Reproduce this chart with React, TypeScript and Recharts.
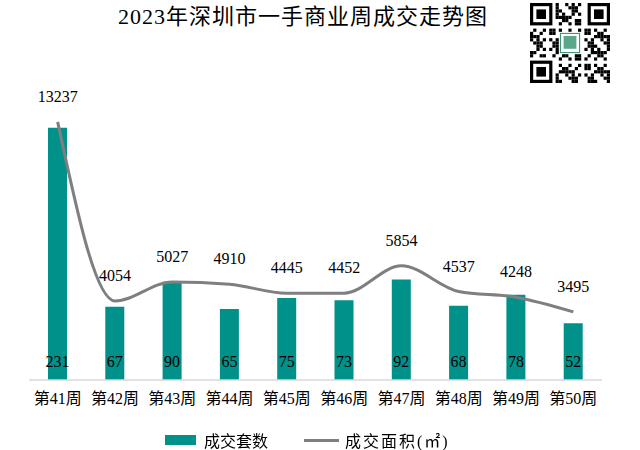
import React from 'react';
import { ComposedChart, Bar, Line, XAxis, YAxis, LabelList, Legend } from 'recharts';

const weeks = ['第41周', '第42周', '第43周', '第44周', '第45周', '第46周', '第47周', '第48周', '第49周', '第50周'];
const dealCounts = [231, 67, 90, 65, 75, 73, 92, 68, 78, 52];
const dealAreas = [13237, 4054, 5027, 4910, 4445, 4452, 5854, 4537, 4248, 3495];

const data = weeks.map((w, i) => ({ week: w, count: dealCounts[i], area: dealAreas[i] }));

const FONT = "'Liberation Serif', 'Noto Sans CJK SC', serif";
const TEAL = '#00918a';
const GRAY = '#7f7f7f';

const qrFinder = (x: number, y: number, s: number) => (
  <g key={`f${x}-${y}`}>
    <rect x={x} y={y} width={7 * s} height={7 * s} fill="#000" />
    <rect x={x + s} y={y + s} width={5 * s} height={5 * s} fill="#fff" />
    <rect x={x + 2 * s} y={y + 2 * s} width={3 * s} height={3 * s} fill="#000" />
  </g>
);

const QR = () => {
  const n = 25;
  const s = 3.2;
  const cells: React.ReactNode[] = [];
  for (let i = 0; i < n; i++) {
    for (let j = 0; j < n; j++) {
      const inFinder = (i < 8 && j < 8) || (i < 8 && j >= n - 8) || (i >= n - 8 && j < 8);
      const inLogo = i >= 9 && i <= 15 && j >= 9 && j <= 15;
      if (inFinder || inLogo) continue;
      const v = ((i * 31 + j * 17 + i * j * 7) % 11) < 5;
      if (v) cells.push(<rect key={`${i}-${j}`} x={j * s} y={i * s} width={s} height={s} fill="#000" />);
    }
  }
  return (
    <svg width={80} height={80} style={{ position: 'absolute', left: 530, top: 3 }}>
      <rect width={80} height={80} fill="#fff" />
      {cells}
      {qrFinder(0, 0, s)}
      {qrFinder((n - 7) * s, 0, s)}
      {qrFinder(0, (n - 7) * s, s)}
      <rect x={9.5 * s} y={9.5 * s} width={6 * s} height={6 * s} fill="#fff" stroke="#2a8a6a" strokeWidth={1} />
      <rect x={10.5 * s} y={10.3 * s} width={4 * s} height={4 * s} fill="#5aa88a" />
    </svg>
  );
};

const renderLegend = () => (
  <div style={{ display: 'flex', justifyContent: 'flex-start', alignItems: 'center', paddingLeft: 165, fontFamily: FONT, fontSize: 16, color: '#000' }}>
    <span style={{ display: 'inline-block', width: 31, height: 10, background: TEAL, marginRight: 8 }} />
    <span style={{ marginRight: 36 }}>成交套数</span>
    <span style={{ display: 'inline-block', width: 35, height: 3, background: GRAY, marginRight: 6 }} />
    <span style={{ letterSpacing: 2 }}>成交面积(㎡)</span>
  </div>
);

export default function App() {
  return (
    <div style={{ position: 'fixed', left: 0, top: 0, width: 640, height: 450, background: '#fff' }}>
      <div style={{ position: 'absolute', left: 0, top: -2, width: 606, textAlign: 'center', fontFamily: FONT, fontSize: 22, letterSpacing: 1, color: '#000' }}>
        2023年深圳市一手商业周成交走势图
      </div>
      <QR />
      <ComposedChart width={640} height={450} data={data} margin={{ top: 107, right: 38, left: 29, bottom: 40 }}>
        <XAxis
          dataKey="week"
          height={30}
          axisLine={{ stroke: '#d9d9d9', strokeWidth: 1.5 }}
          tickLine={false}
          tick={{ fill: '#000', fontSize: 16, fontFamily: FONT }}
          tickMargin={7}
          interval={0}
        />
        <YAxis yAxisId="left" hide domain={[0, 250]} />
        <YAxis yAxisId="right" orientation="right" hide domain={[0, 14000]} />
        <Bar yAxisId="left" dataKey="count" fill={TEAL} barSize={19} isAnimationActive={false}>
          <LabelList dataKey="count" position="insideBottom" offset={13} fill="#000" fontSize={16} fontFamily={FONT} />
        </Bar>
        <Line
          yAxisId="right"
          dataKey="area"
          type="monotone"
          stroke={GRAY}
          strokeWidth={3}
          dot={false}
          isAnimationActive={false}
        >
          <LabelList dataKey="area" position="top" offset={20} fill="#000" fontSize={16} fontFamily={FONT} />
        </Line>
        <Legend
          layout="horizontal"
          verticalAlign="middle"
          align="center"
          content={renderLegend}
          wrapperStyle={{ position: 'absolute', top: 428, left: 0, width: 640 }}
        />
      </ComposedChart>
    </div>
  );
}
